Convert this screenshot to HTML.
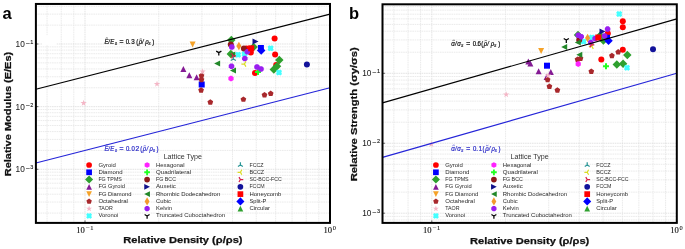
<!DOCTYPE html>
<html><head><meta charset="utf-8"><style>
html,body{margin:0;padding:0;background:#fff;width:685px;height:249px;overflow:hidden}
svg{display:block;will-change:transform;filter:blur(0.3px)}
text{-webkit-font-smoothing:antialiased}
text{font-family:"Liberation Sans",sans-serif;}
.gM{stroke:#d8d8d8;stroke-width:0.7;stroke-dasharray:1.6 0.7}
.gm{stroke:#e2e2e2;stroke-width:0.7;stroke-dasharray:1.6 0.7}
.tl{font-size:8.2px;fill:#1a1a1a;stroke:#1a1a1a;stroke-width:0.04}
.tls{font-size:5.5px;fill:#111;stroke:#111;stroke-width:0.1}
.xt{font-family:"Liberation Serif",serif;font-size:9px;fill:#111;stroke:#111;stroke-width:0.15}
.xts{font-family:"Liberation Serif",serif;font-size:6.4px;fill:#111;stroke:#111;stroke-width:0.1}
.al{font-weight:bold;font-size:9.6px;fill:#111;stroke:#111;stroke-width:0.25}
.pl{font-weight:bold;font-size:16.5px;fill:#000}
.lg{font-size:5.6px;fill:#2a2a2a}
.lt{font-size:6.7px;fill:#333}
</style></head><body>
<svg width="685" height="249" viewBox="0 0 685 249">
<rect width="685" height="249" fill="#fff"/>
<line x1="47.05" y1="3.95" x2="47.05" y2="222.9" class="gm"/>
<line x1="61.26" y1="3.95" x2="61.26" y2="222.9" class="gm"/>
<line x1="73.79" y1="3.95" x2="73.79" y2="222.9" class="gm"/>
<line x1="85.00" y1="3.95" x2="85.00" y2="222.9" class="gM"/>
<line x1="158.75" y1="3.95" x2="158.75" y2="222.9" class="gm"/>
<line x1="201.89" y1="3.95" x2="201.89" y2="222.9" class="gm"/>
<line x1="232.50" y1="3.95" x2="232.50" y2="222.9" class="gm"/>
<line x1="256.25" y1="3.95" x2="256.25" y2="222.9" class="gm"/>
<line x1="275.65" y1="3.95" x2="275.65" y2="222.9" class="gm"/>
<line x1="292.05" y1="3.95" x2="292.05" y2="222.9" class="gm"/>
<line x1="306.26" y1="3.95" x2="306.26" y2="222.9" class="gm"/>
<line x1="318.79" y1="3.95" x2="318.79" y2="222.9" class="gm"/>
<line x1="35.9" y1="213.09" x2="330" y2="213.09" class="gm"/>
<line x1="35.9" y1="202.06" x2="330" y2="202.06" class="gm"/>
<line x1="35.9" y1="194.23" x2="330" y2="194.23" class="gm"/>
<line x1="35.9" y1="188.16" x2="330" y2="188.16" class="gm"/>
<line x1="35.9" y1="183.20" x2="330" y2="183.20" class="gm"/>
<line x1="35.9" y1="179.00" x2="330" y2="179.00" class="gm"/>
<line x1="35.9" y1="175.37" x2="330" y2="175.37" class="gm"/>
<line x1="35.9" y1="172.17" x2="330" y2="172.17" class="gm"/>
<line x1="35.9" y1="169.30" x2="330" y2="169.30" class="gM"/>
<line x1="35.9" y1="150.44" x2="330" y2="150.44" class="gm"/>
<line x1="35.9" y1="139.41" x2="330" y2="139.41" class="gm"/>
<line x1="35.9" y1="131.58" x2="330" y2="131.58" class="gm"/>
<line x1="35.9" y1="125.51" x2="330" y2="125.51" class="gm"/>
<line x1="35.9" y1="120.55" x2="330" y2="120.55" class="gm"/>
<line x1="35.9" y1="116.35" x2="330" y2="116.35" class="gm"/>
<line x1="35.9" y1="112.72" x2="330" y2="112.72" class="gm"/>
<line x1="35.9" y1="109.52" x2="330" y2="109.52" class="gm"/>
<line x1="35.9" y1="106.65" x2="330" y2="106.65" class="gM"/>
<line x1="35.9" y1="87.79" x2="330" y2="87.79" class="gm"/>
<line x1="35.9" y1="76.76" x2="330" y2="76.76" class="gm"/>
<line x1="35.9" y1="68.93" x2="330" y2="68.93" class="gm"/>
<line x1="35.9" y1="62.86" x2="330" y2="62.86" class="gm"/>
<line x1="35.9" y1="57.90" x2="330" y2="57.90" class="gm"/>
<line x1="35.9" y1="53.70" x2="330" y2="53.70" class="gm"/>
<line x1="35.9" y1="50.07" x2="330" y2="50.07" class="gm"/>
<line x1="35.9" y1="46.87" x2="330" y2="46.87" class="gm"/>
<line x1="35.9" y1="44.00" x2="330" y2="44.00" class="gM"/>
<line x1="35.9" y1="25.14" x2="330" y2="25.14" class="gm"/>
<line x1="35.9" y1="14.11" x2="330" y2="14.11" class="gm"/>
<line x1="35.9" y1="6.28" x2="330" y2="6.28" class="gm"/>
<line x1="393.85" y1="4.3" x2="393.85" y2="222.9" class="gm"/>
<line x1="408.06" y1="4.3" x2="408.06" y2="222.9" class="gm"/>
<line x1="420.59" y1="4.3" x2="420.59" y2="222.9" class="gm"/>
<line x1="431.80" y1="4.3" x2="431.80" y2="222.9" class="gM"/>
<line x1="505.55" y1="4.3" x2="505.55" y2="222.9" class="gm"/>
<line x1="548.69" y1="4.3" x2="548.69" y2="222.9" class="gm"/>
<line x1="579.30" y1="4.3" x2="579.30" y2="222.9" class="gm"/>
<line x1="603.05" y1="4.3" x2="603.05" y2="222.9" class="gm"/>
<line x1="622.45" y1="4.3" x2="622.45" y2="222.9" class="gm"/>
<line x1="638.85" y1="4.3" x2="638.85" y2="222.9" class="gm"/>
<line x1="653.06" y1="4.3" x2="653.06" y2="222.9" class="gm"/>
<line x1="665.59" y1="4.3" x2="665.59" y2="222.9" class="gm"/>
<line x1="382.5" y1="219.98" x2="676.8" y2="219.98" class="gm"/>
<line x1="382.5" y1="216.40" x2="676.8" y2="216.40" class="gm"/>
<line x1="382.5" y1="213.20" x2="676.8" y2="213.20" class="gM"/>
<line x1="382.5" y1="192.14" x2="676.8" y2="192.14" class="gm"/>
<line x1="382.5" y1="179.83" x2="676.8" y2="179.83" class="gm"/>
<line x1="382.5" y1="171.09" x2="676.8" y2="171.09" class="gm"/>
<line x1="382.5" y1="164.31" x2="676.8" y2="164.31" class="gm"/>
<line x1="382.5" y1="158.77" x2="676.8" y2="158.77" class="gm"/>
<line x1="382.5" y1="154.09" x2="676.8" y2="154.09" class="gm"/>
<line x1="382.5" y1="150.03" x2="676.8" y2="150.03" class="gm"/>
<line x1="382.5" y1="146.45" x2="676.8" y2="146.45" class="gm"/>
<line x1="382.5" y1="143.25" x2="676.8" y2="143.25" class="gM"/>
<line x1="382.5" y1="122.19" x2="676.8" y2="122.19" class="gm"/>
<line x1="382.5" y1="109.88" x2="676.8" y2="109.88" class="gm"/>
<line x1="382.5" y1="101.14" x2="676.8" y2="101.14" class="gm"/>
<line x1="382.5" y1="94.36" x2="676.8" y2="94.36" class="gm"/>
<line x1="382.5" y1="88.82" x2="676.8" y2="88.82" class="gm"/>
<line x1="382.5" y1="84.14" x2="676.8" y2="84.14" class="gm"/>
<line x1="382.5" y1="80.08" x2="676.8" y2="80.08" class="gm"/>
<line x1="382.5" y1="76.50" x2="676.8" y2="76.50" class="gm"/>
<line x1="382.5" y1="73.30" x2="676.8" y2="73.30" class="gM"/>
<line x1="382.5" y1="52.24" x2="676.8" y2="52.24" class="gm"/>
<line x1="382.5" y1="39.93" x2="676.8" y2="39.93" class="gm"/>
<line x1="382.5" y1="31.19" x2="676.8" y2="31.19" class="gm"/>
<line x1="382.5" y1="24.41" x2="676.8" y2="24.41" class="gm"/>
<line x1="382.5" y1="18.87" x2="676.8" y2="18.87" class="gm"/>
<line x1="382.5" y1="14.19" x2="676.8" y2="14.19" class="gm"/>
<line x1="382.5" y1="10.13" x2="676.8" y2="10.13" class="gm"/>
<line x1="382.5" y1="6.55" x2="676.8" y2="6.55" class="gm"/>
<rect x="42" y="35.3" width="14.5" height="9.6" fill="#fff"/>
<circle cx="274.60" cy="38.60" r="3.00" fill="#ff0000"/>
<circle cx="275.10" cy="54.50" r="3.00" fill="#ff0000"/>
<circle cx="276.20" cy="65.10" r="3.00" fill="#ff0000"/>
<circle cx="250.80" cy="52.60" r="3.00" fill="#ff0000"/>
<circle cx="255.00" cy="73.00" r="3.00" fill="#ff0000"/>
<circle cx="246.50" cy="48.60" r="3.00" fill="#ff0000"/>
<rect x="198.70" y="81.50" width="6.00" height="6.00" fill="#0000ff"/>
<rect x="257.90" y="45.00" width="6.00" height="6.00" fill="#0000ff"/>
<polygon points="231.30,35.76 235.54,40.00 231.30,44.24 227.06,40.00" fill="#2ea02e"/>
<polygon points="230.80,49.76 235.04,54.00 230.80,58.24 226.56,54.00" fill="#2ea02e"/>
<polygon points="253.60,42.76 257.84,47.00 253.60,51.24 249.36,47.00" fill="#2ea02e"/>
<polygon points="279.30,55.66 283.54,59.90 279.30,64.14 275.06,59.90" fill="#2ea02e"/>
<polygon points="273.80,65.26 278.04,69.50 273.80,73.74 269.56,69.50" fill="#2ea02e"/>
<polygon points="277.00,61.96 281.24,66.20 277.00,70.44 272.76,66.20" fill="#2ea02e"/>
<polygon points="183.40,66.00 186.40,72.00 180.40,72.00" fill="#841a94"/>
<polygon points="189.30,72.30 192.30,78.30 186.30,78.30" fill="#841a94"/>
<polygon points="196.60,74.30 199.60,80.30 193.60,80.30" fill="#841a94"/>
<polygon points="192.60,47.60 195.60,41.60 189.60,41.60" fill="#f5a228"/>
<polygon points="201.50,72.80 198.65,74.87 199.74,78.23 203.26,78.23 204.35,74.87" fill="#a8282c"/>
<polygon points="201.50,76.80 198.65,78.87 199.74,82.23 203.26,82.23 204.35,78.87" fill="#a8282c"/>
<polygon points="201.10,87.20 198.25,89.27 199.34,92.63 202.86,92.63 203.95,89.27" fill="#a8282c"/>
<polygon points="210.30,99.20 207.45,101.27 208.54,104.63 212.06,104.63 213.15,101.27" fill="#a8282c"/>
<polygon points="243.40,96.40 240.55,98.47 241.64,101.83 245.16,101.83 246.25,98.47" fill="#a8282c"/>
<polygon points="264.50,92.00 261.65,94.07 262.74,97.43 266.26,97.43 267.35,94.07" fill="#a8282c"/>
<polygon points="270.70,90.60 267.85,92.67 268.94,96.03 272.46,96.03 273.55,92.67" fill="#a8282c"/>
<polygon points="83.60,99.74 82.85,102.06 80.40,102.06 82.38,103.50 81.63,105.82 83.60,104.38 85.57,105.82 84.82,103.50 86.80,102.06 84.35,102.06" fill="#f4b6c6"/>
<polygon points="157.00,80.64 156.25,82.96 153.80,82.96 155.78,84.40 155.03,86.72 157.00,85.28 158.97,86.72 158.22,84.40 160.20,82.96 157.75,82.96" fill="#f4b6c6"/>
<polygon points="202.60,68.24 201.85,70.56 199.40,70.56 201.38,72.00 200.63,74.32 202.60,72.88 204.57,74.32 203.82,72.00 205.80,70.56 203.35,70.56" fill="#f4b6c6"/>
<polygon points="236.60,51.70 238.10,52.45 239.60,51.70 241.10,53.20 240.35,54.70 241.10,56.20 239.60,57.70 238.10,56.95 236.60,57.70 235.10,56.20 235.85,54.70 235.10,53.20" fill="#44ffff"/>
<polygon points="269.10,45.20 270.60,45.95 272.10,45.20 273.60,46.70 272.85,48.20 273.60,49.70 272.10,51.20 270.60,50.45 269.10,51.20 267.60,49.70 268.35,48.20 267.60,46.70" fill="#44ffff"/>
<polygon points="277.50,69.60 279.00,70.35 280.50,69.60 282.00,71.10 281.25,72.60 282.00,74.10 280.50,75.60 279.00,74.85 277.50,75.60 276.00,74.10 276.75,72.60 276.00,71.10" fill="#44ffff"/>
<polygon points="243.00,51.00 244.50,51.75 246.00,51.00 247.50,52.50 246.75,54.00 247.50,55.50 246.00,57.00 244.50,56.25 243.00,57.00 241.50,55.50 242.25,54.00 241.50,52.50" fill="#44ffff"/>
<polygon points="231.00,75.60 228.40,77.10 228.40,80.10 231.00,81.60 233.60,80.10 233.60,77.10" fill="#ff22ff"/>
<polygon points="257.00,69.00 259.00,69.00 259.00,71.00 261.00,71.00 261.00,73.00 259.00,73.00 259.00,75.00 257.00,75.00 257.00,73.00 255.00,73.00 255.00,71.00 257.00,71.00" fill="#22ff22"/>
<circle cx="230.80" cy="44.50" r="3.00" fill="#8e1a1a"/>
<circle cx="243.90" cy="48.50" r="3.00" fill="#8e1a1a"/>
<polygon points="258.50,41.50 252.50,38.50 252.50,44.50" fill="#10108a"/>
<polygon points="214.10,63.50 220.10,60.50 220.10,66.50" fill="#23882a"/>
<polygon points="230.00,70.50 236.00,67.50 236.00,73.50" fill="#23882a"/>
<polygon points="229.30,54.50 235.30,51.50 235.30,57.50" fill="#23882a"/>
<polygon points="238.90,41.76 241.45,46.00 238.90,50.24 236.35,46.00" fill="#f39a2e"/>
<polygon points="230.65,44.23 229.03,45.85 229.03,48.15 230.65,49.77 232.95,49.77 234.57,48.15 234.57,45.85 232.95,44.23" fill="#9a1ef0"/>
<polygon points="246.15,49.03 244.53,50.65 244.53,52.95 246.15,54.57 248.45,54.57 250.07,52.95 250.07,50.65 248.45,49.03" fill="#9a1ef0"/>
<polygon points="243.65,55.83 242.03,57.45 242.03,59.75 243.65,61.37 245.95,61.37 247.57,59.75 247.57,57.45 245.95,55.83" fill="#9a1ef0"/>
<polygon points="230.35,63.43 228.73,65.05 228.73,67.35 230.35,68.97 232.65,68.97 234.27,67.35 234.27,65.05 232.65,63.43" fill="#9a1ef0"/>
<polygon points="255.85,64.23 254.23,65.85 254.23,68.15 255.85,69.77 258.15,69.77 259.77,68.15 259.77,65.85 258.15,64.23" fill="#9a1ef0"/>
<polygon points="259.85,66.23 258.23,67.85 258.23,70.15 259.85,71.77 262.15,71.77 263.77,70.15 263.77,67.85 262.15,66.23" fill="#9a1ef0"/>
<path d="M218.80,52.60L218.80,55.60M218.80,52.60L221.40,51.10M218.80,52.60L216.20,51.10" stroke="#000000" stroke-width="1.25" fill="none"/>
<path d="M233.30,59.00L233.30,56.00M233.30,59.00L230.70,60.50M233.30,59.00L235.90,60.50" stroke="#2a9696" stroke-width="1.25" fill="none"/>
<path d="M244.40,64.00L241.40,64.00M244.40,64.00L245.90,66.60M244.40,64.00L245.90,61.40" stroke="#dcdc22" stroke-width="1.25" fill="none"/>
<path d="M233.00,55.80L236.00,55.80M233.00,55.80L231.50,53.20M233.00,55.80L231.50,58.40" stroke="#d81e48" stroke-width="1.25" fill="none"/>
<circle cx="306.90" cy="64.60" r="3.00" fill="#12129a"/>
<rect x="248.20" y="45.30" width="6.00" height="6.00" fill="#ff0000"/>
<polygon points="261.20,46.16 265.44,50.40 261.20,54.64 256.96,50.40" fill="#0000ff"/>
<circle cx="622.80" cy="21.30" r="3.00" fill="#ff0000"/>
<circle cx="622.80" cy="27.20" r="3.00" fill="#ff0000"/>
<circle cx="622.80" cy="49.70" r="3.00" fill="#ff0000"/>
<circle cx="601.30" cy="59.60" r="3.00" fill="#ff0000"/>
<circle cx="607.80" cy="33.60" r="3.00" fill="#ff0000"/>
<rect x="544.00" y="62.70" width="6.00" height="6.00" fill="#0000ff"/>
<rect x="604.00" y="34.80" width="6.00" height="6.00" fill="#0000ff"/>
<polygon points="578.00,30.76 582.24,35.00 578.00,39.24 573.76,35.00" fill="#2ea02e"/>
<polygon points="600.30,31.16 604.54,35.40 600.30,39.64 596.06,35.40" fill="#2ea02e"/>
<polygon points="603.40,36.36 607.64,40.60 603.40,44.84 599.16,40.60" fill="#2ea02e"/>
<polygon points="627.30,50.66 631.54,54.90 627.30,59.14 623.06,54.90" fill="#2ea02e"/>
<polygon points="616.80,60.26 621.04,64.50 616.80,68.74 612.56,64.50" fill="#2ea02e"/>
<polygon points="623.10,59.56 627.34,63.80 623.10,68.04 618.86,63.80" fill="#2ea02e"/>
<polygon points="528.30,58.50 531.30,64.50 525.30,64.50" fill="#841a94"/>
<polygon points="530.40,60.60 533.40,66.60 527.40,66.60" fill="#841a94"/>
<polygon points="538.60,68.30 541.60,74.30 535.60,74.30" fill="#841a94"/>
<polygon points="550.80,69.00 553.80,75.00 547.80,75.00" fill="#841a94"/>
<polygon points="546.60,74.00 549.60,80.00 543.60,80.00" fill="#841a94"/>
<polygon points="541.10,54.10 544.10,48.10 538.10,48.10" fill="#f5a228"/>
<polygon points="547.60,76.80 544.75,78.87 545.84,82.23 549.36,82.23 550.45,78.87" fill="#a8282c"/>
<polygon points="549.40,83.50 546.55,85.57 547.64,88.93 551.16,88.93 552.25,85.57" fill="#a8282c"/>
<polygon points="557.40,87.30 554.55,89.37 555.64,92.73 559.16,92.73 560.25,89.37" fill="#a8282c"/>
<polygon points="577.50,56.50 574.65,58.57 575.74,61.93 579.26,61.93 580.35,58.57" fill="#a8282c"/>
<polygon points="580.50,55.50 577.65,57.57 578.74,60.93 582.26,60.93 583.35,57.57" fill="#a8282c"/>
<polygon points="591.30,68.50 588.45,70.57 589.54,73.93 593.06,73.93 594.15,70.57" fill="#a8282c"/>
<polygon points="611.90,52.80 609.05,54.87 610.14,58.23 613.66,58.23 614.75,54.87" fill="#a8282c"/>
<polygon points="618.20,49.10 615.35,51.17 616.44,54.53 619.96,54.53 621.05,51.17" fill="#a8282c"/>
<polygon points="431.30,140.84 430.55,143.16 428.10,143.16 430.08,144.60 429.33,146.92 431.30,145.48 433.27,146.92 432.52,144.60 434.50,143.16 432.05,143.16" fill="#f4b6c6"/>
<polygon points="506.20,91.14 505.45,93.46 503.00,93.46 504.98,94.90 504.23,97.22 506.20,95.78 508.17,97.22 507.42,94.90 509.40,93.46 506.95,93.46" fill="#f4b6c6"/>
<polygon points="548.00,72.24 547.25,74.56 544.80,74.56 546.78,76.00 546.03,78.32 548.00,76.88 549.97,78.32 549.22,76.00 551.20,74.56 548.75,74.56" fill="#f4b6c6"/>
<polygon points="582.10,38.50 583.60,39.25 585.10,38.50 586.60,40.00 585.85,41.50 586.60,43.00 585.10,44.50 583.60,43.75 582.10,44.50 580.60,43.00 581.35,41.50 580.60,40.00" fill="#44ffff"/>
<polygon points="590.30,34.60 591.80,35.35 593.30,34.60 594.80,36.10 594.05,37.60 594.80,39.10 593.30,40.60 591.80,39.85 590.30,40.60 588.80,39.10 589.55,37.60 588.80,36.10" fill="#44ffff"/>
<polygon points="617.70,10.90 619.20,11.65 620.70,10.90 622.20,12.40 621.45,13.90 622.20,15.40 620.70,16.90 619.20,16.15 617.70,16.90 616.20,15.40 616.95,13.90 616.20,12.40" fill="#44ffff"/>
<polygon points="625.50,64.80 627.00,65.55 628.50,64.80 630.00,66.30 629.25,67.80 630.00,69.30 628.50,70.80 627.00,70.05 625.50,70.80 624.00,69.30 624.75,67.80 624.00,66.30" fill="#44ffff"/>
<polygon points="578.20,61.00 575.60,62.50 575.60,65.50 578.20,67.00 580.80,65.50 580.80,62.50" fill="#ff22ff"/>
<polygon points="605.00,63.20 607.00,63.20 607.00,65.20 609.00,65.20 609.00,67.20 607.00,67.20 607.00,69.20 605.00,69.20 605.00,67.20 603.00,67.20 603.00,65.20 605.00,65.20" fill="#22ff22"/>
<circle cx="579.20" cy="40.00" r="3.00" fill="#8e1a1a"/>
<polygon points="605.50,31.40 599.50,28.40 599.50,34.40" fill="#10108a"/>
<polygon points="561.20,47.10 567.20,44.10 567.20,50.10" fill="#23882a"/>
<polygon points="576.30,54.80 582.30,51.80 582.30,57.80" fill="#23882a"/>
<polygon points="574.80,42.50 580.80,39.50 580.80,45.50" fill="#23882a"/>
<polygon points="587.60,33.76 590.15,38.00 587.60,42.24 585.05,38.00" fill="#f39a2e"/>
<polygon points="577.15,32.43 575.53,34.05 575.53,36.35 577.15,37.97 579.45,37.97 581.07,36.35 581.07,34.05 579.45,32.43" fill="#9a1ef0"/>
<polygon points="580.05,33.93 578.43,35.55 578.43,37.85 580.05,39.47 582.35,39.47 583.97,37.85 583.97,35.55 582.35,33.93" fill="#9a1ef0"/>
<polygon points="589.65,39.73 588.03,41.35 588.03,43.65 589.65,45.27 591.95,45.27 593.57,43.65 593.57,41.35 591.95,39.73" fill="#9a1ef0"/>
<polygon points="593.95,35.83 592.33,37.45 592.33,39.75 593.95,41.37 596.25,41.37 597.87,39.75 597.87,37.45 596.25,35.83" fill="#9a1ef0"/>
<polygon points="603.45,33.13 601.83,34.75 601.83,37.05 603.45,38.67 605.75,38.67 607.37,37.05 607.37,34.75 605.75,33.13" fill="#9a1ef0"/>
<polygon points="606.45,26.33 604.83,27.95 604.83,30.25 606.45,31.87 608.75,31.87 610.37,30.25 610.37,27.95 608.75,26.33" fill="#9a1ef0"/>
<path d="M566.30,40.00L566.30,43.00M566.30,40.00L568.90,38.50M566.30,40.00L563.70,38.50" stroke="#000000" stroke-width="1.25" fill="none"/>
<path d="M591.80,46.30L588.80,46.30M591.80,46.30L593.30,48.90M591.80,46.30L593.30,43.70" stroke="#dcdc22" stroke-width="1.25" fill="none"/>
<path d="M591.30,44.90L594.30,44.90M591.30,44.90L589.80,42.30M591.30,44.90L589.80,47.50" stroke="#d81e48" stroke-width="1.25" fill="none"/>
<circle cx="653.00" cy="49.30" r="3.00" fill="#12129a"/>
<rect x="595.30" y="34.50" width="6.00" height="6.00" fill="#ff0000"/>
<polygon points="608.50,36.46 612.74,40.70 608.50,44.94 604.26,40.70" fill="#0000ff"/>
<line x1="35.9" y1="89.31" x2="330" y2="14.11" stroke="#000" stroke-width="1.15"/>
<line x1="35.9" y1="163.00" x2="330" y2="87.79" stroke="#2424d8" stroke-width="1.15"/>
<line x1="382.5" y1="102.89" x2="676.8" y2="18.87" stroke="#000" stroke-width="1.15"/>
<line x1="382.5" y1="157.33" x2="676.8" y2="73.30" stroke="#2424d8" stroke-width="1.15"/>
<line x1="85.00" y1="222.9" x2="85.00" y2="220.4" stroke="#444" stroke-width="0.8"/>
<line x1="330.00" y1="222.9" x2="330.00" y2="220.4" stroke="#444" stroke-width="0.8"/>
<line x1="35.9" y1="44.00" x2="38.4" y2="44.00" stroke="#444" stroke-width="0.8"/>
<line x1="35.9" y1="106.65" x2="38.4" y2="106.65" stroke="#444" stroke-width="0.8"/>
<line x1="35.9" y1="169.30" x2="38.4" y2="169.30" stroke="#444" stroke-width="0.8"/>
<rect x="35.9" y="3.95" width="294.1" height="218.95000000000002" fill="none" stroke="#000" stroke-width="2"/>
<line x1="431.80" y1="222.9" x2="431.80" y2="220.4" stroke="#444" stroke-width="0.8"/>
<line x1="676.80" y1="222.9" x2="676.80" y2="220.4" stroke="#444" stroke-width="0.8"/>
<line x1="382.5" y1="73.30" x2="385.0" y2="73.30" stroke="#444" stroke-width="0.8"/>
<line x1="382.5" y1="143.25" x2="385.0" y2="143.25" stroke="#444" stroke-width="0.8"/>
<line x1="382.5" y1="213.20" x2="385.0" y2="213.20" stroke="#444" stroke-width="0.8"/>
<rect x="382.5" y="4.3" width="294.29999999999995" height="218.6" fill="none" stroke="#000" stroke-width="2"/>
<text x="15.6" y="47.0" class="tl" textLength="9.2" lengthAdjust="spacingAndGlyphs">10</text>
<text x="25.7" y="44.6" class="tls" textLength="4.2" lengthAdjust="spacingAndGlyphs">−</text>
<text x="30.3" y="44.1" class="tls">1</text>
<text x="15.6" y="109.7" class="tl" textLength="9.2" lengthAdjust="spacingAndGlyphs">10</text>
<text x="25.7" y="107.2" class="tls" textLength="4.2" lengthAdjust="spacingAndGlyphs">−</text>
<text x="30.3" y="106.8" class="tls">2</text>
<text x="15.6" y="172.3" class="tl" textLength="9.2" lengthAdjust="spacingAndGlyphs">10</text>
<text x="25.7" y="169.9" class="tls" textLength="4.2" lengthAdjust="spacingAndGlyphs">−</text>
<text x="30.3" y="169.4" class="tls">3</text>
<text x="76.2" y="232.7" class="xt" textLength="8.6" lengthAdjust="spacingAndGlyphs">10</text>
<text x="86.0" y="229.8" class="xts" textLength="4.0" lengthAdjust="spacingAndGlyphs">−</text>
<text x="90.3" y="229.7" class="xts">1</text>
<text x="323.5" y="232.7" class="xt" textLength="8.6" lengthAdjust="spacingAndGlyphs">10</text>
<text x="332.8" y="229.7" class="xts">0</text>
<text x="362.2" y="76.3" class="tl" textLength="9.2" lengthAdjust="spacingAndGlyphs">10</text>
<text x="372.3" y="73.9" class="tls" textLength="4.2" lengthAdjust="spacingAndGlyphs">−</text>
<text x="376.9" y="73.4" class="tls">1</text>
<text x="362.2" y="146.2" class="tl" textLength="9.2" lengthAdjust="spacingAndGlyphs">10</text>
<text x="372.3" y="143.8" class="tls" textLength="4.2" lengthAdjust="spacingAndGlyphs">−</text>
<text x="376.9" y="143.3" class="tls">2</text>
<text x="362.2" y="216.2" class="tl" textLength="9.2" lengthAdjust="spacingAndGlyphs">10</text>
<text x="372.3" y="213.8" class="tls" textLength="4.2" lengthAdjust="spacingAndGlyphs">−</text>
<text x="376.9" y="213.3" class="tls">3</text>
<text x="423.0" y="232.7" class="xt" textLength="8.6" lengthAdjust="spacingAndGlyphs">10</text>
<text x="432.8" y="229.8" class="xts" textLength="4.0" lengthAdjust="spacingAndGlyphs">−</text>
<text x="437.1" y="229.7" class="xts">1</text>
<text x="670.3" y="232.7" class="xt" textLength="8.6" lengthAdjust="spacingAndGlyphs">10</text>
<text x="679.6" y="229.7" class="xts">0</text>
<text x="123.3" y="243.1" class="al" textLength="119.2" lengthAdjust="spacingAndGlyphs">Relative Density (ρ/ρs)</text>
<text x="470.0" y="243.9" class="al" textLength="119.3" lengthAdjust="spacingAndGlyphs">Relative Density (ρ/ρs)</text>
<text transform="translate(10.6,176.3) rotate(-90)" class="al" textLength="124.5" lengthAdjust="spacingAndGlyphs">Relative Modulus (E/Es)</text>
<text transform="translate(356.8,181.3) rotate(-90)" class="al" textLength="134.1" lengthAdjust="spacingAndGlyphs">Relative Strength (σy/σs)</text>
<text x="2.6" y="18.6" class="pl">a</text>
<text x="349" y="18.8" class="pl">b</text>
<circle cx="89.10" cy="165.00" r="2.85" fill="#ff0000"/>
<text x="98.40" y="166.50" class="lg" textLength="17.55" lengthAdjust="spacingAndGlyphs">Gyroid</text>
<rect x="86.25" y="169.43" width="5.70" height="5.70" fill="#0000ff"/>
<text x="98.40" y="173.78" class="lg" textLength="24.16" lengthAdjust="spacingAndGlyphs">Diamond</text>
<polygon points="89.10,175.53 93.13,179.56 89.10,183.59 85.07,179.56" fill="#2ea02e"/>
<text x="98.40" y="181.06" class="lg" textLength="23.43" lengthAdjust="spacingAndGlyphs">FG TPMS</text>
<polygon points="89.10,183.99 91.95,189.69 86.25,189.69" fill="#841a94"/>
<text x="98.40" y="188.34" class="lg" textLength="26.47" lengthAdjust="spacingAndGlyphs">FG Gyroid</text>
<polygon points="89.10,196.97 91.95,191.27 86.25,191.27" fill="#f5a228"/>
<text x="98.40" y="195.62" class="lg" textLength="33.08" lengthAdjust="spacingAndGlyphs">FG Diamond</text>
<polygon points="89.10,198.55 86.39,200.52 87.42,203.71 90.78,203.71 91.81,200.52" fill="#a8282c"/>
<text x="98.40" y="202.90" class="lg" textLength="29.57" lengthAdjust="spacingAndGlyphs">Octahedral</text>
<polygon points="89.10,205.49 88.38,207.69 86.06,207.69 87.94,209.06 87.22,211.26 89.10,209.90 90.98,211.26 90.26,209.06 92.14,207.69 89.82,207.69" fill="#f4b6c6"/>
<text x="98.40" y="210.18" class="lg" textLength="14.35" lengthAdjust="spacingAndGlyphs">TAOR</text>
<polygon points="87.67,213.11 89.10,213.82 90.52,213.11 91.95,214.53 91.24,215.96 91.95,217.39 90.52,218.81 89.10,218.10 87.67,218.81 86.25,217.39 86.96,215.96 86.25,214.53" fill="#44ffff"/>
<text x="98.40" y="217.46" class="lg" textLength="20.02" lengthAdjust="spacingAndGlyphs">Voronoi</text>
<polygon points="147.10,162.15 144.63,163.57 144.63,166.43 147.10,167.85 149.57,166.43 149.57,163.57" fill="#ff22ff"/>
<text x="156.00" y="166.50" class="lg" textLength="28.49" lengthAdjust="spacingAndGlyphs">Hexagonal</text>
<polygon points="146.15,169.43 148.05,169.43 148.05,171.33 149.95,171.33 149.95,173.23 148.05,173.23 148.05,175.13 146.15,175.13 146.15,173.23 144.25,173.23 144.25,171.33 146.15,171.33" fill="#22ff22"/>
<text x="156.00" y="173.78" class="lg" textLength="35.08" lengthAdjust="spacingAndGlyphs">Quadrilateral</text>
<circle cx="147.10" cy="179.56" r="2.85" fill="#8e1a1a"/>
<text x="156.00" y="181.06" class="lg" textLength="19.97" lengthAdjust="spacingAndGlyphs">FG BCC</text>
<polygon points="149.95,186.84 144.25,183.99 144.25,189.69" fill="#10108a"/>
<text x="156.00" y="188.34" class="lg" textLength="19.87" lengthAdjust="spacingAndGlyphs">Auxetic</text>
<polygon points="144.25,194.12 149.95,191.27 149.95,196.97" fill="#23882a"/>
<text x="156.00" y="195.62" class="lg" textLength="64.24" lengthAdjust="spacingAndGlyphs">Rhombic Dodecahedron</text>
<polygon points="147.10,197.37 149.52,201.40 147.10,205.43 144.68,201.40" fill="#f39a2e"/>
<text x="156.00" y="202.90" class="lg" textLength="14.95" lengthAdjust="spacingAndGlyphs">Cubic</text>
<polygon points="146.01,206.05 144.47,207.59 144.47,209.77 146.01,211.31 148.19,211.31 149.73,209.77 149.73,207.59 148.19,206.05" fill="#9a1ef0"/>
<text x="156.00" y="210.18" class="lg" textLength="16.06" lengthAdjust="spacingAndGlyphs">Kelvin</text>
<path d="M147.10,215.96L147.10,218.81M147.10,215.96L149.57,214.53M147.10,215.96L144.63,214.53" stroke="#000000" stroke-width="1.25" fill="none"/>
<text x="156.00" y="217.46" class="lg" textLength="69.11" lengthAdjust="spacingAndGlyphs">Truncated Cuboctahedron</text>
<path d="M240.40,165.00L240.40,162.15M240.40,165.00L237.93,166.43M240.40,165.00L242.87,166.43" stroke="#2a9696" stroke-width="1.25" fill="none"/>
<text x="249.40" y="166.50" class="lg" textLength="14.21" lengthAdjust="spacingAndGlyphs">FCCZ</text>
<path d="M240.40,172.28L237.55,172.28M240.40,172.28L241.83,174.75M240.40,172.28L241.83,169.81" stroke="#dcdc22" stroke-width="1.25" fill="none"/>
<text x="249.40" y="173.78" class="lg" textLength="14.71" lengthAdjust="spacingAndGlyphs">BCCZ</text>
<path d="M240.40,179.56L243.25,179.56M240.40,179.56L238.97,177.09M240.40,179.56L238.97,182.03" stroke="#d81e48" stroke-width="1.25" fill="none"/>
<text x="249.40" y="181.06" class="lg" textLength="32.40" lengthAdjust="spacingAndGlyphs">SC-BCC-FCC</text>
<circle cx="240.40" cy="186.84" r="2.85" fill="#12129a"/>
<text x="249.40" y="188.34" class="lg" textLength="15.16" lengthAdjust="spacingAndGlyphs">FCCM</text>
<rect x="237.55" y="191.27" width="5.70" height="5.70" fill="#ff0000"/>
<text x="249.40" y="195.62" class="lg" textLength="31.97" lengthAdjust="spacingAndGlyphs">Honeycomb</text>
<polygon points="240.40,197.37 244.43,201.40 240.40,205.43 236.37,201.40" fill="#0000ff"/>
<text x="249.40" y="202.90" class="lg" textLength="17.02" lengthAdjust="spacingAndGlyphs">Split-P</text>
<polygon points="240.40,205.83 243.25,211.53 237.55,211.53" fill="#2ea02e"/>
<text x="249.40" y="210.18" class="lg" textLength="20.60" lengthAdjust="spacingAndGlyphs">Circular</text>
<text x="163.67" y="158.6" class="lt" textLength="38.35" lengthAdjust="spacingAndGlyphs">Lattice Type</text>
<circle cx="435.90" cy="165.00" r="2.85" fill="#ff0000"/>
<text x="445.20" y="166.50" class="lg" textLength="17.55" lengthAdjust="spacingAndGlyphs">Gyroid</text>
<rect x="433.05" y="169.43" width="5.70" height="5.70" fill="#0000ff"/>
<text x="445.20" y="173.78" class="lg" textLength="24.16" lengthAdjust="spacingAndGlyphs">Diamond</text>
<polygon points="435.90,175.53 439.93,179.56 435.90,183.59 431.87,179.56" fill="#2ea02e"/>
<text x="445.20" y="181.06" class="lg" textLength="23.43" lengthAdjust="spacingAndGlyphs">FG TPMS</text>
<polygon points="435.90,183.99 438.75,189.69 433.05,189.69" fill="#841a94"/>
<text x="445.20" y="188.34" class="lg" textLength="26.47" lengthAdjust="spacingAndGlyphs">FG Gyroid</text>
<polygon points="435.90,196.97 438.75,191.27 433.05,191.27" fill="#f5a228"/>
<text x="445.20" y="195.62" class="lg" textLength="33.08" lengthAdjust="spacingAndGlyphs">FG Diamond</text>
<polygon points="435.90,198.55 433.19,200.52 434.22,203.71 437.58,203.71 438.61,200.52" fill="#a8282c"/>
<text x="445.20" y="202.90" class="lg" textLength="29.57" lengthAdjust="spacingAndGlyphs">Octahedral</text>
<polygon points="435.90,205.49 435.18,207.69 432.86,207.69 434.74,209.06 434.02,211.26 435.90,209.90 437.78,211.26 437.06,209.06 438.94,207.69 436.62,207.69" fill="#f4b6c6"/>
<text x="445.20" y="210.18" class="lg" textLength="14.35" lengthAdjust="spacingAndGlyphs">TAOR</text>
<polygon points="434.47,213.11 435.90,213.82 437.32,213.11 438.75,214.53 438.04,215.96 438.75,217.39 437.32,218.81 435.90,218.10 434.47,218.81 433.05,217.39 433.76,215.96 433.05,214.53" fill="#44ffff"/>
<text x="445.20" y="217.46" class="lg" textLength="20.02" lengthAdjust="spacingAndGlyphs">Voronoi</text>
<polygon points="493.90,162.15 491.43,163.57 491.43,166.43 493.90,167.85 496.37,166.43 496.37,163.57" fill="#ff22ff"/>
<text x="502.80" y="166.50" class="lg" textLength="28.49" lengthAdjust="spacingAndGlyphs">Hexagonal</text>
<polygon points="492.95,169.43 494.85,169.43 494.85,171.33 496.75,171.33 496.75,173.23 494.85,173.23 494.85,175.13 492.95,175.13 492.95,173.23 491.05,173.23 491.05,171.33 492.95,171.33" fill="#22ff22"/>
<text x="502.80" y="173.78" class="lg" textLength="35.08" lengthAdjust="spacingAndGlyphs">Quadrilateral</text>
<circle cx="493.90" cy="179.56" r="2.85" fill="#8e1a1a"/>
<text x="502.80" y="181.06" class="lg" textLength="19.97" lengthAdjust="spacingAndGlyphs">FG BCC</text>
<polygon points="496.75,186.84 491.05,183.99 491.05,189.69" fill="#10108a"/>
<text x="502.80" y="188.34" class="lg" textLength="19.87" lengthAdjust="spacingAndGlyphs">Auxetic</text>
<polygon points="491.05,194.12 496.75,191.27 496.75,196.97" fill="#23882a"/>
<text x="502.80" y="195.62" class="lg" textLength="64.24" lengthAdjust="spacingAndGlyphs">Rhombic Dodecahedron</text>
<polygon points="493.90,197.37 496.32,201.40 493.90,205.43 491.48,201.40" fill="#f39a2e"/>
<text x="502.80" y="202.90" class="lg" textLength="14.95" lengthAdjust="spacingAndGlyphs">Cubic</text>
<polygon points="492.81,206.05 491.27,207.59 491.27,209.77 492.81,211.31 494.99,211.31 496.53,209.77 496.53,207.59 494.99,206.05" fill="#9a1ef0"/>
<text x="502.80" y="210.18" class="lg" textLength="16.06" lengthAdjust="spacingAndGlyphs">Kelvin</text>
<path d="M493.90,215.96L493.90,218.81M493.90,215.96L496.37,214.53M493.90,215.96L491.43,214.53" stroke="#000000" stroke-width="1.25" fill="none"/>
<text x="502.80" y="217.46" class="lg" textLength="69.11" lengthAdjust="spacingAndGlyphs">Truncated Cuboctahedron</text>
<path d="M587.20,165.00L587.20,162.15M587.20,165.00L584.73,166.43M587.20,165.00L589.67,166.43" stroke="#2a9696" stroke-width="1.25" fill="none"/>
<text x="596.20" y="166.50" class="lg" textLength="14.21" lengthAdjust="spacingAndGlyphs">FCCZ</text>
<path d="M587.20,172.28L584.35,172.28M587.20,172.28L588.62,174.75M587.20,172.28L588.62,169.81" stroke="#dcdc22" stroke-width="1.25" fill="none"/>
<text x="596.20" y="173.78" class="lg" textLength="14.71" lengthAdjust="spacingAndGlyphs">BCCZ</text>
<path d="M587.20,179.56L590.05,179.56M587.20,179.56L585.78,177.09M587.20,179.56L585.78,182.03" stroke="#d81e48" stroke-width="1.25" fill="none"/>
<text x="596.20" y="181.06" class="lg" textLength="32.40" lengthAdjust="spacingAndGlyphs">SC-BCC-FCC</text>
<circle cx="587.20" cy="186.84" r="2.85" fill="#12129a"/>
<text x="596.20" y="188.34" class="lg" textLength="15.16" lengthAdjust="spacingAndGlyphs">FCCM</text>
<rect x="584.35" y="191.27" width="5.70" height="5.70" fill="#ff0000"/>
<text x="596.20" y="195.62" class="lg" textLength="31.97" lengthAdjust="spacingAndGlyphs">Honeycomb</text>
<polygon points="587.20,197.37 591.23,201.40 587.20,205.43 583.17,201.40" fill="#0000ff"/>
<text x="596.20" y="202.90" class="lg" textLength="17.02" lengthAdjust="spacingAndGlyphs">Split-P</text>
<polygon points="587.20,205.83 590.05,211.53 584.35,211.53" fill="#2ea02e"/>
<text x="596.20" y="210.18" class="lg" textLength="20.60" lengthAdjust="spacingAndGlyphs">Circular</text>
<text x="510.47" y="158.6" class="lt" textLength="38.35" lengthAdjust="spacingAndGlyphs">Lattice Type</text>
<text x="104.41" y="44.00" fill="#111111" font-style="italic" style="font-size:6.8px;stroke:#111111;stroke-width:0.22" textLength="3.99" lengthAdjust="spacingAndGlyphs">E</text>
<text x="108.29" y="44.00" fill="#111111" font-style="italic" style="font-size:6.8px;stroke:#111111;stroke-width:0.22" textLength="1.66" lengthAdjust="spacingAndGlyphs">/</text>
<text x="110.16" y="44.00" fill="#111111" font-style="italic" style="font-size:6.8px;stroke:#111111;stroke-width:0.22" textLength="3.99" lengthAdjust="spacingAndGlyphs">E</text>
<text x="114.91" y="45.00" fill="#111111" font-style="italic" style="font-size:4.7px;stroke:#111111;stroke-width:0.22" textLength="2.07" lengthAdjust="spacingAndGlyphs">s</text>
<text x="119.53" y="44.00" fill="#111111" style="font-size:6.8px;stroke:#111111;stroke-width:0.22" textLength="3.97" lengthAdjust="spacingAndGlyphs">=</text>
<text x="125.75" y="44.00" fill="#111111" style="font-size:6.8px;stroke:#111111;stroke-width:0.22" textLength="3.33" lengthAdjust="spacingAndGlyphs">0</text>
<text x="128.70" y="44.00" fill="#111111" style="font-size:6.8px;stroke:#111111;stroke-width:0.22" textLength="1.85" lengthAdjust="spacingAndGlyphs">.</text>
<text x="131.35" y="44.00" fill="#111111" style="font-size:6.8px;stroke:#111111;stroke-width:0.22" textLength="3.47" lengthAdjust="spacingAndGlyphs">3</text>
<text x="136.31" y="44.00" fill="#111111" style="font-size:6.8px;stroke:#111111;stroke-width:0.22" textLength="1.99" lengthAdjust="spacingAndGlyphs">(</text>
<text x="138.67" y="44.00" fill="#111111" font-style="italic" style="font-size:6.8px;stroke:#111111;stroke-width:0.22" textLength="3.43" lengthAdjust="spacingAndGlyphs">ρ</text>
<text x="141.89" y="44.00" fill="#111111" font-style="italic" style="font-size:6.8px;stroke:#111111;stroke-width:0.22" textLength="1.66" lengthAdjust="spacingAndGlyphs">/</text>
<text x="145.22" y="44.00" fill="#111111" font-style="italic" style="font-size:6.8px;stroke:#111111;stroke-width:0.22" textLength="3.43" lengthAdjust="spacingAndGlyphs">ρ</text>
<text x="148.51" y="45.00" fill="#111111" font-style="italic" style="font-size:4.7px;stroke:#111111;stroke-width:0.22" textLength="2.07" lengthAdjust="spacingAndGlyphs">s</text>
<text x="152.18" y="44.00" fill="#111111" style="font-size:6.8px;stroke:#111111;stroke-width:0.22" textLength="1.99" lengthAdjust="spacingAndGlyphs">)</text>
<path d="M105.70,38.25q0.55,-0.6 1.10,-0.25t1.10,-0.25" stroke="#111111" stroke-width="0.6" fill="none"/>
<path d="M139.60,39.25q0.55,-0.6 1.10,-0.25t1.10,-0.25" stroke="#111111" stroke-width="0.6" fill="none"/>
<text x="104.41" y="150.70" fill="#2a2ac8" font-style="italic" style="font-size:6.8px;stroke:#2a2ac8;stroke-width:0.22" textLength="3.99" lengthAdjust="spacingAndGlyphs">E</text>
<text x="108.29" y="150.70" fill="#2a2ac8" font-style="italic" style="font-size:6.8px;stroke:#2a2ac8;stroke-width:0.22" textLength="1.66" lengthAdjust="spacingAndGlyphs">/</text>
<text x="110.16" y="150.70" fill="#2a2ac8" font-style="italic" style="font-size:6.8px;stroke:#2a2ac8;stroke-width:0.22" textLength="3.99" lengthAdjust="spacingAndGlyphs">E</text>
<text x="114.91" y="151.70" fill="#2a2ac8" font-style="italic" style="font-size:4.7px;stroke:#2a2ac8;stroke-width:0.22" textLength="2.07" lengthAdjust="spacingAndGlyphs">s</text>
<text x="119.53" y="150.70" fill="#2a2ac8" style="font-size:6.8px;stroke:#2a2ac8;stroke-width:0.22" textLength="3.97" lengthAdjust="spacingAndGlyphs">=</text>
<text x="125.95" y="150.70" fill="#2a2ac8" style="font-size:6.8px;stroke:#2a2ac8;stroke-width:0.22" textLength="3.33" lengthAdjust="spacingAndGlyphs">0</text>
<text x="129.10" y="150.70" fill="#2a2ac8" style="font-size:6.8px;stroke:#2a2ac8;stroke-width:0.22" textLength="1.85" lengthAdjust="spacingAndGlyphs">.</text>
<text x="131.40" y="150.70" fill="#2a2ac8" style="font-size:6.8px;stroke:#2a2ac8;stroke-width:0.22" textLength="3.33" lengthAdjust="spacingAndGlyphs">0</text>
<text x="135.57" y="150.70" fill="#2a2ac8" style="font-size:6.8px;stroke:#2a2ac8;stroke-width:0.22" textLength="3.71" lengthAdjust="spacingAndGlyphs">2</text>
<text x="140.36" y="150.70" fill="#2a2ac8" style="font-size:6.8px;stroke:#2a2ac8;stroke-width:0.22" textLength="1.99" lengthAdjust="spacingAndGlyphs">(</text>
<text x="142.77" y="150.70" fill="#2a2ac8" font-style="italic" style="font-size:6.8px;stroke:#2a2ac8;stroke-width:0.22" textLength="3.43" lengthAdjust="spacingAndGlyphs">ρ</text>
<text x="146.39" y="150.70" fill="#2a2ac8" font-style="italic" style="font-size:6.8px;stroke:#2a2ac8;stroke-width:0.22" textLength="1.66" lengthAdjust="spacingAndGlyphs">/</text>
<text x="149.52" y="150.70" fill="#2a2ac8" font-style="italic" style="font-size:6.8px;stroke:#2a2ac8;stroke-width:0.22" textLength="3.43" lengthAdjust="spacingAndGlyphs">ρ</text>
<text x="153.06" y="151.70" fill="#2a2ac8" font-style="italic" style="font-size:4.7px;stroke:#2a2ac8;stroke-width:0.22" textLength="2.07" lengthAdjust="spacingAndGlyphs">s</text>
<text x="156.43" y="150.70" fill="#2a2ac8" style="font-size:6.8px;stroke:#2a2ac8;stroke-width:0.22" textLength="1.99" lengthAdjust="spacingAndGlyphs">)</text>
<path d="M105.70,145.05q0.55,-0.6 1.10,-0.25t1.10,-0.25" stroke="#2a2ac8" stroke-width="0.6" fill="none"/>
<path d="M143.60,146.05q0.58,-0.6 1.15,-0.25t1.15,-0.25" stroke="#2a2ac8" stroke-width="0.6" fill="none"/>
<text x="451.26" y="45.70" fill="#111111" font-style="italic" style="font-size:6.8px;stroke:#111111;stroke-width:0.22" textLength="3.61" lengthAdjust="spacingAndGlyphs">σ</text>
<text x="454.99" y="45.70" fill="#111111" font-style="italic" style="font-size:6.8px;stroke:#111111;stroke-width:0.22" textLength="1.66" lengthAdjust="spacingAndGlyphs">/</text>
<text x="457.26" y="45.70" fill="#111111" font-style="italic" style="font-size:6.8px;stroke:#111111;stroke-width:0.22" textLength="3.61" lengthAdjust="spacingAndGlyphs">σ</text>
<text x="461.36" y="46.70" fill="#111111" font-style="italic" style="font-size:4.7px;stroke:#111111;stroke-width:0.22" textLength="2.07" lengthAdjust="spacingAndGlyphs">s</text>
<text x="466.28" y="45.70" fill="#111111" style="font-size:6.8px;stroke:#111111;stroke-width:0.22" textLength="3.97" lengthAdjust="spacingAndGlyphs">=</text>
<text x="472.65" y="45.70" fill="#111111" style="font-size:6.8px;stroke:#111111;stroke-width:0.22" textLength="3.33" lengthAdjust="spacingAndGlyphs">0</text>
<text x="475.95" y="45.70" fill="#111111" style="font-size:6.8px;stroke:#111111;stroke-width:0.22" textLength="1.85" lengthAdjust="spacingAndGlyphs">.</text>
<text x="477.59" y="45.70" fill="#111111" style="font-size:6.8px;stroke:#111111;stroke-width:0.22" textLength="3.42" lengthAdjust="spacingAndGlyphs">6</text>
<text x="481.26" y="45.70" fill="#111111" style="font-size:6.8px;stroke:#111111;stroke-width:0.22" textLength="1.99" lengthAdjust="spacingAndGlyphs">(</text>
<text x="483.82" y="45.70" fill="#111111" font-style="italic" style="font-size:6.8px;stroke:#111111;stroke-width:0.22" textLength="3.43" lengthAdjust="spacingAndGlyphs">ρ</text>
<text x="487.24" y="45.70" fill="#111111" font-style="italic" style="font-size:6.8px;stroke:#111111;stroke-width:0.22" textLength="1.66" lengthAdjust="spacingAndGlyphs">/</text>
<text x="490.87" y="45.70" fill="#111111" font-style="italic" style="font-size:6.8px;stroke:#111111;stroke-width:0.22" textLength="3.43" lengthAdjust="spacingAndGlyphs">ρ</text>
<text x="494.26" y="46.70" fill="#111111" font-style="italic" style="font-size:4.7px;stroke:#111111;stroke-width:0.22" textLength="2.07" lengthAdjust="spacingAndGlyphs">s</text>
<text x="498.33" y="45.70" fill="#111111" style="font-size:6.8px;stroke:#111111;stroke-width:0.22" textLength="1.99" lengthAdjust="spacingAndGlyphs">)</text>
<path d="M452.50,40.55q0.60,-0.6 1.20,-0.25t1.20,-0.25" stroke="#111111" stroke-width="0.6" fill="none"/>
<path d="M484.60,40.85q0.57,-0.6 1.15,-0.25t1.15,-0.25" stroke="#111111" stroke-width="0.6" fill="none"/>
<text x="451.26" y="150.70" fill="#2a2ac8" font-style="italic" style="font-size:6.8px;stroke:#2a2ac8;stroke-width:0.22" textLength="3.61" lengthAdjust="spacingAndGlyphs">σ</text>
<text x="454.99" y="150.70" fill="#2a2ac8" font-style="italic" style="font-size:6.8px;stroke:#2a2ac8;stroke-width:0.22" textLength="1.66" lengthAdjust="spacingAndGlyphs">/</text>
<text x="457.26" y="150.70" fill="#2a2ac8" font-style="italic" style="font-size:6.8px;stroke:#2a2ac8;stroke-width:0.22" textLength="3.61" lengthAdjust="spacingAndGlyphs">σ</text>
<text x="461.36" y="151.70" fill="#2a2ac8" font-style="italic" style="font-size:4.7px;stroke:#2a2ac8;stroke-width:0.22" textLength="2.07" lengthAdjust="spacingAndGlyphs">s</text>
<text x="466.28" y="150.70" fill="#2a2ac8" style="font-size:6.8px;stroke:#2a2ac8;stroke-width:0.22" textLength="3.97" lengthAdjust="spacingAndGlyphs">=</text>
<text x="472.95" y="150.70" fill="#2a2ac8" style="font-size:6.8px;stroke:#2a2ac8;stroke-width:0.22" textLength="3.33" lengthAdjust="spacingAndGlyphs">0</text>
<text x="476.35" y="150.70" fill="#2a2ac8" style="font-size:6.8px;stroke:#2a2ac8;stroke-width:0.22" textLength="1.85" lengthAdjust="spacingAndGlyphs">.</text>
<text x="478.83" y="150.70" fill="#2a2ac8" style="font-size:6.8px;stroke:#2a2ac8;stroke-width:0.22" textLength="3.33" lengthAdjust="spacingAndGlyphs">1</text>
<text x="482.61" y="150.70" fill="#2a2ac8" style="font-size:6.8px;stroke:#2a2ac8;stroke-width:0.22" textLength="1.99" lengthAdjust="spacingAndGlyphs">(</text>
<text x="485.37" y="150.70" fill="#2a2ac8" font-style="italic" style="font-size:6.8px;stroke:#2a2ac8;stroke-width:0.22" textLength="3.43" lengthAdjust="spacingAndGlyphs">ρ</text>
<text x="488.64" y="150.70" fill="#2a2ac8" font-style="italic" style="font-size:6.8px;stroke:#2a2ac8;stroke-width:0.22" textLength="1.66" lengthAdjust="spacingAndGlyphs">/</text>
<text x="491.52" y="150.70" fill="#2a2ac8" font-style="italic" style="font-size:6.8px;stroke:#2a2ac8;stroke-width:0.22" textLength="3.43" lengthAdjust="spacingAndGlyphs">ρ</text>
<text x="494.71" y="151.70" fill="#2a2ac8" font-style="italic" style="font-size:4.7px;stroke:#2a2ac8;stroke-width:0.22" textLength="2.07" lengthAdjust="spacingAndGlyphs">s</text>
<text x="498.58" y="150.70" fill="#2a2ac8" style="font-size:6.8px;stroke:#2a2ac8;stroke-width:0.22" textLength="1.99" lengthAdjust="spacingAndGlyphs">)</text>
<path d="M452.50,145.45q0.60,-0.6 1.20,-0.25t1.20,-0.25" stroke="#2a2ac8" stroke-width="0.6" fill="none"/>
<path d="M486.00,145.75q0.60,-0.6 1.20,-0.25t1.20,-0.25" stroke="#2a2ac8" stroke-width="0.6" fill="none"/>
</svg>
</body></html>
